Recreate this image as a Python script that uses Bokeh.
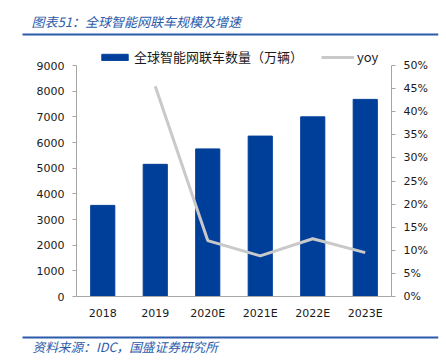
from bokeh.plotting import figure
from bokeh.layouts import column
from bokeh.models import (FactorRange, Range1d, LinearAxis, NumeralTickFormatter,
                          SingleIntervalTicker, Legend, LegendItem, ColumnDataSource)
from bokeh.core.properties import value
from bokeh.embed import file_html
from bokeh.resources import INLINE

categories = ["2018", "2019", "2020E", "2021E", "2022E", "2023E"]
vehicles = [3550, 5150, 5750, 6250, 7000, 7680]
yoy_cats = ["2019", "2020E", "2021E", "2022E", "2023E"]
yoy = [0.455, 0.121, 0.088, 0.125, 0.095]
left_max = 9000
right_max = 0.5

BAR = "#003F99"
GREY = "#C9C9C9"
AXIS = "#A6A6A6"
TXT = "#1A1A1A"
TBLUE = "#2B5BAA"
NUMFONT = "DejaVu Sans"
CJK = "Noto Sans CJK SC"

W = 440
HEAD_H, MAIN_H, FOOT_H = 42, 288, 26
DL, DR, DT, DB = 10, 2, 1, 1   # small borders for the decoration strips

def deco_fig(h):
    f = figure(frame_width=W - DL - DR, frame_height=h - DT - DB,
               x_range=Range1d(DL, W - DR), y_range=Range1d(h - DB, DT),
               x_axis_location=None, y_axis_location=None, title=None, frame_align=False,
               output_backend="svg", toolbar_location=None, align="start",
               min_border=0, min_border_left=DL, min_border_right=DR,
               min_border_top=DT, min_border_bottom=DB)
    f.grid.visible = False
    f.outline_line_color = None
    return f

# header
head = deco_fig(HEAD_H)
head.text(x=[31], y=[21], text=["图表51：全球智能网联车规模及增速"], text_font=value(CJK),
          text_font_size="13px", text_font_style="italic", text_color=TBLUE, text_baseline="middle")
head.quad(left=[22], right=[W - DR], top=[33], bottom=[35], fill_color=TBLUE, line_color=None)

# main chart: page y of frame top 48, 9000 at page 65, 0 at page 296
top0 = HEAD_H
FT, FB, FL, FR = 48 - top0, 296 - top0, 76, 391
plot_px = FB - FT
data_px = 296 - 65
p = figure(width=W, height=MAIN_H, x_range=FactorRange(*categories, range_padding=0),
           y_range=Range1d(0, left_max * plot_px / data_px), output_backend="svg", toolbar_location=None,
           align="start", frame_align=False,
           min_border_left=FL, min_border_right=W - FR, min_border_top=FT, min_border_bottom=MAIN_H - FB)
p.extra_y_ranges = {"pct": Range1d(0, right_max * plot_px / data_px)}

src = ColumnDataSource(dict(x=categories, top=vehicles))
bars = p.vbar(x="x", top="top", width=0.46, source=src, color=BAR)
ysrc = ColumnDataSource(dict(x=yoy_cats, y=yoy))
line = p.line(x="x", y="y", source=ysrc, y_range_name="pct", line_color=GREY, line_width=3)

p.grid.visible = False
p.outline_line_color = None

ya = p.yaxis[0]
ya.ticker = SingleIntervalTicker(interval=1000)
ya.bounds = (0, left_max)
ra = LinearAxis(y_range_name="pct", ticker=SingleIntervalTicker(interval=0.05),
                formatter=NumeralTickFormatter(format="0%"), bounds=(0, right_max))
p.add_layout(ra, "right")
for ax in (ya, ra):
    ax.axis_line_color = AXIS
    ax.major_tick_line_color = AXIS
    ax.major_tick_out = 4
    ax.major_tick_in = 0
    ax.minor_tick_line_color = None
    ax.major_label_text_font = NUMFONT
    ax.major_label_text_font_size = "11px"
    ax.major_label_text_color = TXT
    ax.major_label_standoff = 8

xa = p.xaxis[0]
xa.axis_line_color = AXIS
xa.major_tick_line_color = None
xa.major_tick_out = 0
xa.major_tick_in = 0
xa.minor_tick_line_color = None
xa.major_label_text_font = NUMFONT
xa.major_label_text_font_size = "11px"
xa.major_label_text_color = TXT
xa.major_label_standoff = 10

legend = Legend(items=[LegendItem(label="全球智能网联车数量（万辆）", renderers=[bars]),
                       LegendItem(label="yoy", renderers=[line])],
                orientation="horizontal", location=(98 - FL, FB - (66 - top0)),
                label_text_font=CJK, label_text_font_size="13px", label_text_color=TXT,
                label_height=14, glyph_width=33, glyph_height=8, spacing=18, padding=0, margin=0,
                label_standoff=3, border_line_color=None, background_fill_alpha=0)
p.add_layout(legend)

# footer
top1 = HEAD_H + MAIN_H
foot = deco_fig(FOOT_H)
foot.quad(left=[22], right=[W - DR], top=[336 - top1], bottom=[338 - top1], fill_color=TBLUE, line_color=None)
foot.text(x=[32], y=[346 - top1], text=["资料来源：IDC，国盛证券研究所"], text_font=value(CJK),
          text_font_size="12.7px", text_font_style="italic", text_color=TBLUE, text_baseline="middle")

layout = column(head, p, foot, spacing=0)
open("out.html", "w").write(file_html(layout, INLINE))
